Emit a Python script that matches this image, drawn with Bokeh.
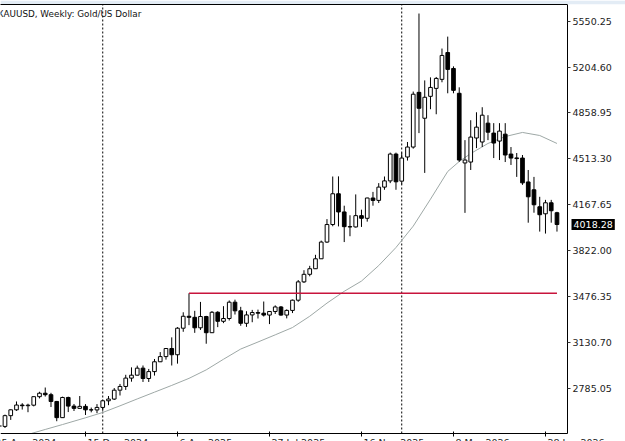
from bokeh.plotting import figure
from bokeh.models import Range1d, LinearAxis, FixedTicker, Label, NumeralTickFormatter, ColumnDataSource
from bokeh.embed import file_html
from bokeh.resources import INLINE

# ---- data (weekly bars, index 0 = week of 15 Dec 2024) ----
weeks = list(range(-15, 83))
opens = [2503, 2497, 2578, 2622, 2658, 2653, 2657, 2721, 2747, 2736, 2685, 2563, 2715, 2650, 2633,
         2648, 2622, 2621, 2640, 2690, 2703, 2770, 2798, 2861, 2883, 2936, 2858, 2910, 2984, 3023,
         3084, 3037, 3237, 3327, 3319, 3240, 3325, 3203, 3357, 3289, 3310, 3433, 3368, 3274, 3337,
         3355, 3350, 3336, 3363, 3397, 3336, 3371, 3448, 3586, 3643, 3685, 3760, 3886, 4018, 4250,
         4113, 4002, 4000, 4085, 4065, 4218, 4200, 4300, 4347, 4549, 4345, 4527, 4602, 5014, 4819,
         4984, 5044, 5112, 5314, 5194, 5007, 4482, 4489, 4670, 4640, 4782, 4707, 4647, 4699, 4549,
         4520, 4519, 4339, 4280, 4152, 4099, 4182, 4107]
highs = [2529, 2586, 2625, 2685, 2672, 2668, 2722, 2758, 2790, 2750, 2689, 2721, 2721, 2666, 2726,
         2665, 2639, 2665, 2697, 2726, 2786, 2817, 2886, 2942, 2955, 2956, 2930, 3005, 3057, 3087,
         3168, 3245, 3357, 3500, 3368, 3435, 3330, 3366, 3365, 3403, 3446, 3452, 3398, 3365, 3375,
         3377, 3438, 3363, 3409, 3404, 3379, 3453, 3600, 3674, 3707, 3790, 3897, 4059, 4380, 4381,
         4160, 4088, 4245, 4130, 4220, 4264, 4330, 4380, 4560, 4560, 4560, 4640, 5020, 5608, 5104,
         5127, 5130, 5344, 5434, 5210, 5052, 4654, 4804, 4864, 4902, 4842, 4782, 4782, 4782, 4602,
         4557, 4542, 4429, 4377, 4227, 4204, 4204, 4114]
lows = [2472, 2485, 2546, 2614, 2624, 2604, 2648, 2708, 2722, 2643, 2536, 2563, 2605, 2613, 2632,
        2583, 2603, 2597, 2614, 2657, 2696, 2730, 2772, 2834, 2881, 2832, 2832, 2880, 2982, 3000,
        2956, 2970, 3210, 3260, 3202, 3224, 3120, 3201, 3245, 3275, 3295, 3340, 3255, 3247, 3282,
        3310, 3325, 3268, 3344, 3331, 3311, 3351, 3436, 3578, 3628, 3683, 3759, 3880, 4005, 4004,
        3886, 3930, 3995, 4000, 4040, 4160, 4180, 4280, 4330, 4280, 4320, 4500, 4590, 4707, 4407,
        4887, 4849, 5090, 5007, 5007, 4490, 4106, 4429, 4594, 4602, 4654, 4519, 4504, 4489, 4467,
        4377, 4317, 4032, 4107, 3965, 3950, 4032, 3965]
closes = [2497, 2578, 2622, 2658, 2653, 2657, 2721, 2747, 2736, 2685, 2563, 2715, 2650, 2633, 2648,
          2622, 2621, 2640, 2690, 2703, 2770, 2798, 2861, 2883, 2936, 2858, 2910, 2984, 3023, 3084,
          3037, 3237, 3327, 3319, 3240, 3325, 3203, 3357, 3289, 3310, 3433, 3368, 3274, 3337, 3355,
          3350, 3336, 3363, 3397, 3336, 3371, 3448, 3586, 3643, 3685, 3760, 3886, 4018, 4250, 4113,
          4002, 4000, 4085, 4065, 4218, 4200, 4300, 4347, 4549, 4340, 4519, 4602, 5000, 4894, 4977,
          5051, 5119, 5292, 5187, 5029, 4504, 4504, 4677, 4752, 4842, 4714, 4632, 4722, 4542, 4519,
          4515, 4332, 4227, 4167, 4092, 4182, 4122, 4018.28]

ma_weeks = [-9.4, -7, -4, 0, 3, 6, 9, 12, 15, 18, 21, 24, 27, 30, 33, 36, 39, 42, 45, 48, 51,
            54, 57, 60, 63, 65, 67, 70, 73, 76, 79, 82]
ma_values = [2444, 2474, 2511, 2562, 2602, 2652, 2704, 2755, 2806, 2859, 2923, 3003, 3080, 3133,
             3187, 3242, 3327, 3426, 3515, 3592, 3709, 3845, 4006, 4209, 4418, 4493, 4553, 4629,
             4681, 4712, 4689, 4629]

level_price = 3500
level_start_week = 18
level_end_week = 82
separator_weeks = [3, 55]

price_ticks = [2785.05, 3130.70, 3476.35, 3822.00, 4167.65, 4513.30, 4858.95, 5204.60, 5550.25]
tick_weeks = [-16, 0, 16, 32, 48, 64, 80]
tick_labels = ["25 Aug 2024", "15 Dec 2024", "6 Apr 2025", "27 Jul 2025",
               "16 Nov 2025", "8 Mar 2026", "28 Jun 2026"]
title_text = "XAUUSD, Weekly:  Gold/US Dollar"

# ---- geometry (chart area ends at XA / YA; frame covers whole canvas) ----
X0, XA, X1 = -14.78, 83.83, 93.916
YA, Y0, Y1 = 2443.6, 2383.3, 5676.0
FONT = "DejaVu Sans"

p = figure(width=625, height=441, output_backend="svg", toolbar_location=None,
           x_range=Range1d(X0, X1), y_range=Range1d(Y0, Y1),
           x_axis_location=None, y_axis_location=None,
           min_border_left=0, min_border_right=0, min_border_top=4, min_border_bottom=0)
p.outline_line_color = None
p.grid.visible = False
p.background_fill_color = "white"
p.border_fill_color = "#e3ecf5"

ya = LinearAxis(fixed_location=XA, bounds=(YA, Y1),
                ticker=FixedTicker(ticks=price_ticks),
                formatter=NumeralTickFormatter(format="0.00"),
                major_tick_out=3, major_tick_in=0, minor_tick_out=0, minor_tick_in=0,
                axis_line_color="black", major_tick_line_color="#333333",
                major_label_standoff=2, major_label_text_font=FONT,
                major_label_text_font_size="9.5px", major_label_text_color="#222222")
p.add_layout(ya, "right")

xa = LinearAxis(fixed_location=YA, bounds=(X0, XA),
                ticker=FixedTicker(ticks=tick_weeks),
                major_tick_out=3, major_tick_in=2, minor_tick_out=0, minor_tick_in=0,
                axis_line_color="black", major_label_text_font_size="1px",
                major_label_text_alpha=0, major_label_standoff=0)
p.add_layout(xa, "below")

top_axis = LinearAxis(ticker=FixedTicker(ticks=[]), axis_line_color="black", bounds=(X0, XA),
                      major_tick_out=0, major_tick_in=0, minor_tick_out=0, minor_tick_in=0,
                      major_label_text_font_size="1px", major_label_standoff=0)
p.add_layout(top_axis, "above")

# period separators
p.segment(x0=separator_weeks, y0=[YA] * len(separator_weeks),
          x1=separator_weeks, y1=[Y1] * len(separator_weeks),
          line_color="black", line_dash="2 2", line_width=1)

# moving average
p.line(ma_weeks, ma_values, line_color="#9ea8a6", line_width=1)

# candles
tops = [max(o, c) for o, c in zip(opens, closes)]
bottoms = [min(o, c) for o, c in zip(opens, closes)]
fills = ["white" if c >= o else "black" for o, c in zip(opens, closes)]
src = ColumnDataSource(dict(x=weeks, high=highs, low=lows, top=tops, bottom=bottoms, fill=fills))
p.segment(x0="x", y0="low", x1="x", y1="high", source=src, line_color="black", line_width=1)
p.vbar(x="x", width=0.64, top="top", bottom="bottom", source=src,
       fill_color="fill", line_color="black", line_width=1)

# horizontal level
p.segment(x0=[level_start_week], y0=[level_price], x1=[level_end_week], y1=[level_price],
          line_color="#c8143c", line_width=1.6)

# title
p.add_layout(Label(x=X0, y=Y1, x_offset=-3, y_offset=-4, text=title_text,
                   text_baseline="top", text_align="left", text_font=FONT,
                   text_font_size="8.8px", text_color="#111111"))

# date labels (cut by the window bottom)
for w, t in zip(tick_weeks, tick_labels):
    p.add_layout(Label(x=w, y=YA, x_offset=2, y_offset=-4, text=t, text_baseline="top",
                       text_align="left", text_font=FONT, text_font_size="9.5px",
                       text_color="#222222"))

# current price label
price_kw = dict(x=XA, y=closes[-1], x_offset=4, text=f"{closes[-1]:.2f}",
                text_baseline="middle", text_align="left", text_font=FONT,
                text_font_size="9.5px", text_color="white",
                background_fill_color="black")
if "padding" in Label.properties():
    price_kw["padding"] = 2
p.add_layout(Label(**price_kw))

open("out.html", "w").write(file_html(p, INLINE))
